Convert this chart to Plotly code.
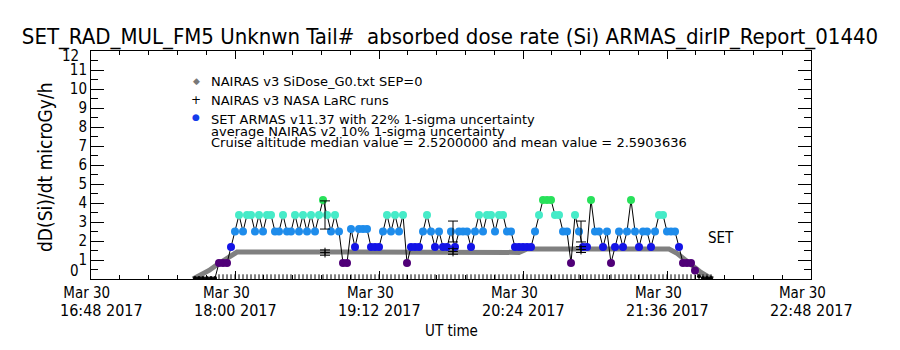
import plotly.graph_objects as go
from datetime import datetime, timedelta

DAY = "2017-03-30"

# ---------------- data ----------------
# SET ARMAS absorbed dose rate, one sample every 2 minutes starting 17:40 UT
armas_start = "17:40"
armas_step_min = 2
armas_values = [
    0.05, 0.05, 0.05, 0.05, 0.05, 0.05,
    0.84, 0.84, 0.84, 1.68, 2.5, 3.37, 2.5, 3.37, 3.37, 2.5,
    3.37, 2.5, 3.37, 3.37, 2.5, 2.5, 3.37, 2.5, 2.5, 3.37,
    2.5, 3.37, 2.5, 3.37, 2.5, 3.37, 4.16, 3.37, 2.5, 3.37,
    2.5, 0.84, 0.84, 2.63, 1.68, 2.63, 2.63, 2.63, 1.68, 1.68,
    1.68, 2.5, 3.37, 2.5, 3.37, 2.5, 3.37, 0.84, 1.68, 1.68,
    1.68, 2.5, 3.37, 2.5, 1.68, 2.5, 1.68, 1.68, 2.5, 1.68,
    2.5, 2.5, 2.5, 1.68, 2.5, 3.37, 2.5, 3.37, 3.37, 2.5,
    3.37, 3.37, 2.5, 2.5, 1.68, 1.68, 1.68, 1.68, 1.68, 2.5,
    3.37, 4.16, 4.16, 4.16, 3.37, 3.37, 2.5, 2.5, 0.84, 3.37,
    2.5, 1.68, 1.68, 4.16, 2.5, 2.5, 1.68, 2.5, 0.84, 1.68,
    2.5, 1.68, 2.5, 4.16, 2.5, 1.68, 2.5, 2.5, 1.68, 2.5,
    3.37, 3.37, 2.5, 2.5, 2.5, 1.68, 0.84, 0.84, 0.84, 0.45,
    0.15, 0.05, 0.05, 0.05,
]

# NAIRAS v3 SiDose_G0 model along the flight path
nairas_times = ["17:39", "17:43", "17:47", "17:51", "17:55", "17:59", "18:01",
                "19:00", "20:00", "20:22", "20:26", "21:00", "21:37",
                "21:41", "21:45", "21:49", "21:53", "21:57", "21:59"]
nairas_values = [0.0, 0.2, 0.45, 0.75, 1.05, 1.3, 1.42,
                 1.42, 1.40, 1.40, 1.58, 1.58, 1.58,
                 1.35, 1.0, 0.65, 0.35, 0.1, 0.0]

# NAIRAS v3 NASA LaRC runs
larc_times = ["18:45", "19:49", "20:53"]
larc_values = [1.39, 1.45, 1.55]
# ARMAS value shown with its 22% uncertainty at the LaRC run times
armas_err_values = [3.37, 2.5, 2.5]

x_tick_times = ["16:48", "18:00", "19:12", "20:24", "21:36", "22:48"]
y_ticks = list(range(0, 13))

title_text = "SET_RAD_MUL_FM5 Unknwn Tail#  absorbed dose rate (Si) ARMAS_dirIP_Report_01440"
legend_lines = [
    "NAIRAS v3 SiDose_G0.txt SEP=0",
    "NAIRAS v3 NASA LaRC runs",
    "SET ARMAS v11.37 with 22% 1-sigma uncertainty",
    "average NAIRAS v2 10% 1-sigma uncertainty",
    "Cruise altitude median value = 2.5200000 and mean value = 2.5903636",
]

# ---------------- helpers ----------------
def ts(hhmm):
    return datetime.strptime(DAY + " " + hhmm, "%Y-%m-%d %H:%M")

t0 = ts(armas_start)
armas_times = [t0 + timedelta(minutes=armas_step_min * i) for i in range(len(armas_values))]

def level_color(v):
    if v < 0.3:
        return "black"
    if v < 1.2:
        return "rgb(80,0,120)"
    if v < 2.1:
        return "rgb(20,20,230)"
    if v < 2.9:
        return "rgb(30,140,235)"
    if v < 3.8:
        return "rgb(70,235,200)"
    return "rgb(40,225,90)"

armas_colors = [level_color(v) for v in armas_values]
armas_sizes = [4 if v < 0.3 else 8 for v in armas_values]

LEFT, RIGHT, TOP, BOTTOM = 91, 811, 51, 279
W, H = 900, 350
FONT_C = "DejaVu Sans Condensed, Liberation Sans Narrow, sans-serif"
FONT_L = "DejaVu Sans, sans-serif"

fig = go.Figure()

# NAIRAS SiDose band
fig.add_trace(go.Scatter(
    x=[ts(t) for t in nairas_times], y=nairas_values, mode="lines",
    line=dict(color="rgb(128,128,128)", width=5), showlegend=False, hoverinfo="skip"))

# measurement-time rug along the bottom
rug_times = armas_times[6:]
fig.add_trace(go.Scatter(
    x=rug_times, y=[0.1] * len(rug_times), mode="markers",
    marker=dict(symbol="line-ns-open", size=4, color="black", line=dict(color="black", width=1)),
    showlegend=False, hoverinfo="skip"))

# ARMAS line + coloured points
fig.add_trace(go.Scatter(
    x=armas_times, y=armas_values, mode="lines+markers",
    line=dict(color="black", width=1),
    marker=dict(symbol="circle", size=armas_sizes, color=armas_colors, line=dict(width=0), opacity=1),
    showlegend=False))

# ARMAS 22% error bars
fig.add_trace(go.Scatter(
    x=[ts(t) for t in larc_times], y=armas_err_values, mode="markers",
    marker=dict(size=1, color="rgba(0,0,0,0)"),
    error_y=dict(type="percent", value=22, color="black", thickness=1, width=5),
    showlegend=False))

# LaRC runs with 10% error bars
fig.add_trace(go.Scatter(
    x=[ts(t) for t in larc_times], y=larc_values, mode="markers",
    marker=dict(symbol="cross-thin-open", size=7, color="black", line=dict(color="black", width=1)),
    error_y=dict(type="percent", value=10, color="black", thickness=1, width=5),
    showlegend=False))

def px2paper(px, py):
    return (px - LEFT) / (RIGHT - LEFT), (BOTTOM - py) / (BOTTOM - TOP)

annotations = []
# legend symbols
for (sx, sy), txt, col, sz in [((196, 81), "◆", "rgb(120,120,120)", 9),
                               ((196, 100), "+", "black", 12),
                               ((196, 117), "●", "rgb(20,60,235)", 9)]:
    ax_, ay_ = px2paper(sx, sy)
    annotations.append(dict(x=ax_, y=ay_, xref="paper", yref="paper", text=txt,
                            showarrow=False, xanchor="center", yanchor="middle",
                            font=dict(family=FONT_L, size=sz, color=col)))
for (ly, line) in zip([81, 100, 119, 131, 142], legend_lines):
    ax_, ay_ = px2paper(209, ly)
    annotations.append(dict(x=ax_, y=ay_, xref="paper", yref="paper", text=line,
                            showarrow=False, xanchor="left", yanchor="middle",
                            font=dict(family=FONT_L, size=13, color="black")))
# SET label
ax_, ay_ = px2paper(706, 238)
annotations.append(dict(x=ax_, y=ay_, xref="paper", yref="paper", text="SET",
                        showarrow=False, xanchor="left", yanchor="middle",
                        font=dict(family=FONT_C, size=15, color="black")))
# end y labels pulled inside like the original
for val, py in [(0, 271), (12, 56)]:
    ax_, ay_ = px2paper(81, py)
    annotations.append(dict(x=ax_, y=ay_, xref="paper", yref="paper", text=str(val),
                            showarrow=False, xanchor="right", yanchor="middle",
                            font=dict(family=FONT_C, size=15, color="black")))
# y axis title
ax_, ay_ = px2paper(45, 167)
annotations.append(dict(x=ax_, y=ay_, xref="paper", yref="paper", text="dD(Si)/dt microGy/h",
                        textangle=-90, showarrow=False, xanchor="center", yanchor="middle",
                        font=dict(family=FONT_C, size=19, color="black")))
# second line of the date tick labels
_, y2 = px2paper(0, 310)
for i, t in enumerate(x_tick_times):
    annotations.append(dict(x=ts(t), y=y2, xref="x", yref="paper", text=t + " 2017",
                            xshift=10 if i == 0 else 0,
                            showarrow=False, xanchor="center", yanchor="middle",
                            font=dict(family=FONT_C, size=16, color="black")))
# x axis title
_, y3 = px2paper(0, 331)
annotations.append(dict(x=0.5, y=y3, xref="paper", yref="paper", text="UT time",
                        showarrow=False, xanchor="center", yanchor="middle",
                        font=dict(family=FONT_C, size=15, color="black")))

major_x = [ts(t) for t in x_tick_times]
minor_x = [major_x[0] + timedelta(minutes=14.4 * k) for k in range(26)]
NB = "\u00a0"

fig.update_layout(
    width=W, height=H,
    margin=dict(l=LEFT, r=W - RIGHT, t=TOP, b=H - BOTTOM),
    paper_bgcolor="white", plot_bgcolor="white",
    title=dict(text=title_text, x=0.5, xref="container", xanchor="center",
               y=1 - 36 / H, yref="container", yanchor="middle",
               font=dict(family=FONT_C, size=22, color="black")),
    xaxis=dict(type="date", range=[ts("16:48"), ts("22:48")],
               showline=True, linecolor="black", linewidth=1, mirror="ticks",
               showgrid=False, zeroline=False,
               ticks="inside", ticklen=8, tickcolor="black",
               tickvals=major_x,
               ticktext=["Mar 30" + NB * (2 if i == 0 else 4) for i, _ in enumerate(x_tick_times)],
               tickfont=dict(family=FONT_C, size=15, color="black"),
               minor=dict(tickvals=minor_x, ticks="inside", ticklen=4, tickcolor="black", showgrid=False)),
    yaxis=dict(range=[0, 12], showline=True, linecolor="black", linewidth=1, mirror="ticks",
               showgrid=False, zeroline=False,
               ticks="inside", ticklen=13, tickcolor="black",
               tickvals=y_ticks,
               ticktext=["" if v in (0, 12) else str(v) for v in y_ticks],
               tickfont=dict(family=FONT_C, size=15, color="black"),
               minor=dict(tickvals=[v + 0.5 for v in y_ticks[:-1]], ticks="inside", ticklen=7,
                          tickcolor="black", showgrid=False)),
    annotations=annotations,
    showlegend=False,
)

fig.write_html("out.html")
